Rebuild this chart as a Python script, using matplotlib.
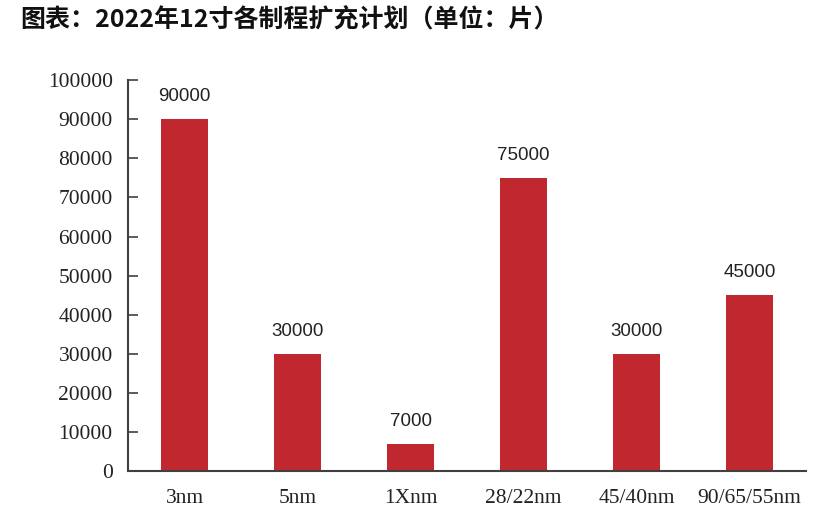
import matplotlib.pyplot as plt

plt.rcParams['font.family'] = ['Liberation Serif', 'DejaVu Sans']

categories = ["3nm", "5nm", "1Xnm", "28/22nm", "45/40nm", "90/65/55nm"]
capacity = [90000, 30000, 7000, 75000, 30000, 45000]
yticks = list(range(0, 100001, 10000))
title = "图表：2022年12寸各制程扩充计划（单位：片）"

fig = plt.figure(figsize=(8.31, 5.31), dpi=100)
ax = fig.add_axes([0.154, 0.113, 0.816, 0.736])

x = range(len(categories))
bars = ax.bar(x, capacity, width=0.415, color="#C1272F")

for b, v in zip(bars, capacity):
    ax.annotate(f"{v}", (b.get_x() + b.get_width() / 2, v),
                xytext=(0, 10), textcoords="offset points",
                ha="center", va="bottom", fontsize=13.5,
                family=["Liberation Sans", "DejaVu Sans"], color="#222222")

ax.set_xlim(-0.5, len(categories) - 0.5)
ax.set_ylim(0, 100000)
ax.set_yticks(yticks)
ax.set_xticks(list(x))
ax.set_xticklabels(categories)

ax.tick_params(axis="y", direction="in", length=7, width=1.2, color="#404040",
               pad=11, labelsize=15.5, labelcolor="#222222")
ax.tick_params(axis="x", length=0, pad=13, labelsize=15.5, labelcolor="#222222")

for s in ["top", "right"]:
    ax.spines[s].set_visible(False)
for s in ["left", "bottom"]:
    ax.spines[s].set_color("#404040")
    ax.spines[s].set_linewidth(1.5)

fig.text(0.024, 0.962, title, ha="left", va="center", fontsize=18,
         fontweight="bold", family=["Noto Sans CJK SC", "DejaVu Sans"], color="#111111")

fig.savefig("out.png", dpi=100)
